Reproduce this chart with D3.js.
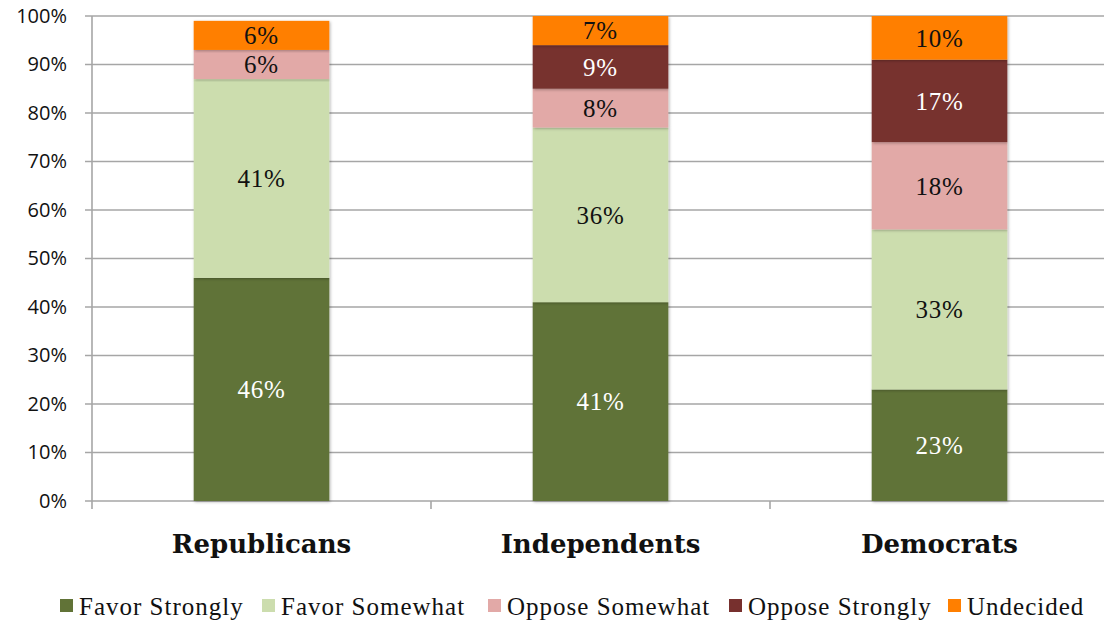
<!DOCTYPE html>
<html>
<head>
<meta charset="utf-8">
<script src="https://cdn.jsdelivr.net/npm/d3@7"></script>
<style>
  html, body { margin: 0; padding: 0; background: #fff; }
  svg { display: block; }
</style>
</head>
<body>
<svg id="chart" width="1104" height="622"></svg>
<script>
// Party groups along the x axis
const categories = ["Republicans", "Independents", "Democrats"];

// Response shares (percent) per party, stacked bottom to top
const seriesNames = ["Favor Strongly", "Favor Somewhat", "Oppose Somewhat", "Oppose Strongly", "Undecided"];
const favorStrongly   = [46, 41, 23];
const favorSomewhat   = [41, 36, 33];
const opposeSomewhat  = [6, 8, 18];
const opposeStrongly  = [0, 9, 17];
const undecided       = [6, 7, 10];

const yTicks = [0, 10, 20, 30, 40, 50, 60, 70, 80, 90, 100];

const colors = ["#617337", "#CCDDAE", "#E2A9A7", "#77302E", "#FF7F00"];
const labelColors = ["#ffffff", "#111111", "#111111", "#ffffff", "#111111"];

const seriesValues = [favorStrongly, favorSomewhat, opposeSomewhat, opposeStrongly, undecided];
const rows = categories.map((c, i) => {
  const r = { category: c };
  seriesNames.forEach((s, k) => { r[s] = seriesValues[k][i]; });
  return r;
});
const stacked = d3.stack().keys(seriesNames)(rows);

const svg = d3.select("#chart");
const margin = { left: 92, right: -5, top: 16, bottom: 121 };
const W = 1104, H = 622;

const x = d3.scaleBand()
  .domain(categories)
  .range([margin.left, W - margin.right])
  .paddingInner(0).paddingOuter(0);

const y = d3.scaleLinear()
  .domain([0, 100])
  .range([H - margin.bottom, margin.top]);

const barFrac = 0.4;
const barW = x.bandwidth() * barFrac;

// drop shadow for the bars
const defs = svg.append("defs");
const f = defs.append("filter").attr("id", "shadow")
  .attr("x", "-10%").attr("y", "-10%").attr("width", "120%").attr("height", "120%");
f.append("feDropShadow").attr("dx", 1).attr("dy", 1).attr("stdDeviation", 1.5)
  .attr("flood-color", "#000").attr("flood-opacity", 0.3);
defs.append("clipPath").attr("id", "plotclip")
  .append("rect")
  .attr("x", 0).attr("y", y(100))
  .attr("width", W).attr("height", y(0) - y(100) + 6);

// horizontal gridlines
const gridColor = "#A6A6A6";
svg.append("g")
  .selectAll("line")
  .data(yTicks)
  .join("line")
  .attr("x1", margin.left - 7)
  .attr("x2", W)
  .attr("y1", d => y(d))
  .attr("y2", d => y(d))
  .attr("stroke", gridColor)
  .attr("stroke-width", 1.6);

// y axis labels
const yAxis = d3.axisLeft(y).tickValues(yTicks).tickFormat(d => d + "%").tickSize(0).tickPadding(25);
const yg = svg.append("g").attr("transform", `translate(${margin.left},0)`).call(yAxis);
yg.select(".domain").remove();
yg.selectAll("text")
  .attr("font-family", "'Open Sans', sans-serif")
  .attr("font-size", 20)
  .attr("fill", "#111");

// y axis line
svg.append("line")
  .attr("x1", margin.left).attr("x2", margin.left)
  .attr("y1", y(100)).attr("y2", y(0) + 8)
  .attr("stroke", gridColor).attr("stroke-width", 1.6);

// category ticks between groups
const catTicks = categories.map(c => x(c)).concat([x(categories[categories.length - 1]) + x.bandwidth()]);
svg.append("g")
  .selectAll("line")
  .data(catTicks.slice(1))
  .join("line")
  .attr("x1", d => d).attr("x2", d => d)
  .attr("y1", y(0)).attr("y2", y(0) + 8)
  .attr("stroke", gridColor).attr("stroke-width", 1.6);

// stacked bars
const barsG = svg.append("g").attr("clip-path", "url(#plotclip)");
stacked.forEach((layer, k) => {
  barsG.append("g")
    .attr("fill", colors[k])
    .selectAll("rect")
    .data(layer.filter(d => d[1] > d[0]))
    .join("rect")
    .attr("x", d => x(d.data.category) + (x.bandwidth() - barW) / 2)
    .attr("width", barW)
    .attr("y", d => y(Math.min(d[1], 100)))
    .attr("height", d => y(d[0]) - y(Math.min(d[1], 100)))
    .attr("filter", "url(#shadow)");
});

// value labels
stacked.forEach((layer, k) => {
  svg.append("g")
    .selectAll("text")
    .data(layer.filter(d => d[1] > d[0]))
    .join("text")
    .attr("x", d => x(d.data.category) + x.bandwidth() / 2)
    .attr("y", d => (y(d[0]) + y(Math.min(d[1], 100))) / 2)
    .attr("dy", "0.35em")
    .attr("text-anchor", "middle")
    .attr("font-family", "'Liberation Serif', 'DejaVu Serif', serif")
    .attr("font-size", 25)
    .attr("letter-spacing", 0.8)
    .attr("fill", labelColors[k])
    .text(d => (d[1] - d[0]) + "%");
});

// category labels
svg.append("g")
  .selectAll("text")
  .data(categories)
  .join("text")
  .attr("x", d => x(d) + x.bandwidth() / 2)
  .attr("y", 553)
  .attr("text-anchor", "middle")
  .attr("font-family", "'DejaVu Serif', serif")
  .attr("font-weight", "bold")
  .attr("font-size", 26)
  .attr("fill", "#111")
  .text(d => d);

// legend
const legendX = [60, 262, 488, 729, 948];
const lg = svg.append("g");
seriesNames.forEach((s, k) => {
  const g = lg.append("g").attr("transform", `translate(${legendX[k]},606)`);
  g.append("rect").attr("x", 0).attr("y", -7).attr("width", 13).attr("height", 13).attr("fill", colors[k]);
  g.append("text")
    .attr("x", 19).attr("y", 0).attr("dy", "0.35em")
    .attr("font-family", "'Liberation Serif', serif")
    .attr("font-size", 25)
    .attr("letter-spacing", 1)
    .attr("fill", "#111")
    .text(s);
});
</script>
</body>
</html>
